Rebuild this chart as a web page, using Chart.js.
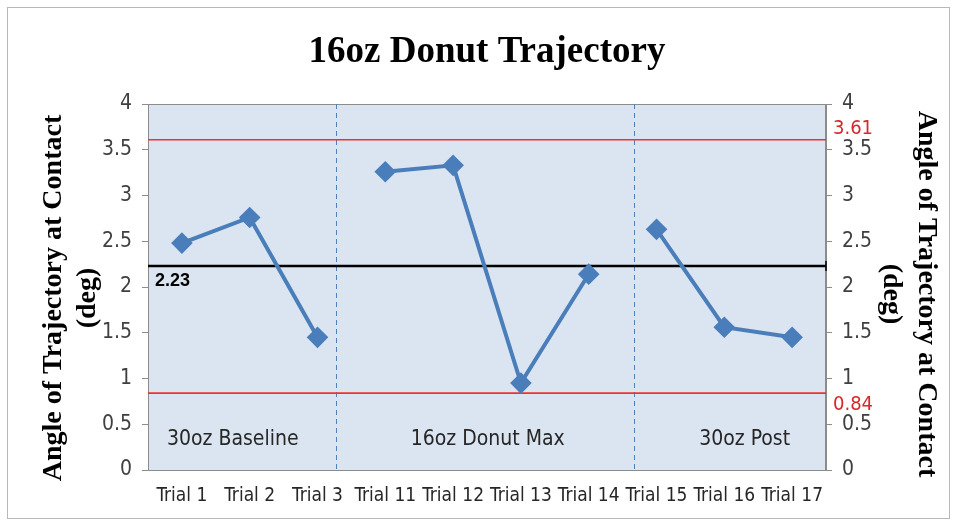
<!DOCTYPE html>
<html lang="en">
  <head>
    <meta charset="UTF-8" />
    <style>
      html, body { margin: 0; padding: 0; background: #fff; }
      #wrap { width: 956px; height: 525px; }
    </style>
  </head>
  <body>
    <div id="wrap"><canvas id="myChart" width="956" height="525"></canvas></div>
    <script src="https://cdn.jsdelivr.net/npm/chart.js@4.4.1/dist/chart.umd.min.js"></script>
    <script>
      // data
      var trials = ["Trial 1", "Trial 2", "Trial 3", "Trial 11", "Trial 12", "Trial 13", "Trial 14", "Trial 15", "Trial 16", "Trial 17"];
      var angles = [2.48, 2.76, 1.45, 3.26, 3.33, 0.95, 2.14, 2.63, 1.56, 1.45];
      var meanValue = 2.23;
      var upperLimit = 3.61;
      var lowerLimit = 0.84;
      var yTicks = [0, 0.5, 1, 1.5, 2, 2.5, 3, 3.5, 4];
      var phases = ["30oz Baseline", "16oz Donut Max", "30oz Post"];
      var phaseCenters = [0.75, 4.51, 8.3]; // in category index units
      var phaseDividers = [2.27, 6.67];

      var sansFamily = "'Liberation Sans Narrow', 'DejaVu Sans Condensed', sans-serif";
      var tickFont = { family: sansFamily, size: 21 };
      var serif = "'Liberation Serif', 'DejaVu Serif', serif";

      function afterFitWidth(w) {
        return function (scale) { scale.width = w; };
      }

      /* 背景・タイトル・基準線などを描く */
      var decor = {
        id: "decor",
        beforeDraw: function (chart) {
          var c = chart.ctx, a = chart.chartArea;
          c.save();
          c.fillStyle = "#fff";
          c.fillRect(0, 0, chart.width, chart.height);
          c.strokeStyle = "#b8b8b8";
          c.lineWidth = 1;
          c.strokeRect(7.5, 7.5, 942, 511);
          c.fillStyle = "#dbe5f1";
          c.fillRect(a.left, a.top, a.right - a.left, a.bottom - a.top);
          c.restore();
        },
        beforeDatasetsDraw: function (chart) {
          var c = chart.ctx, a = chart.chartArea;
          var x = chart.scales.x, y = chart.scales.y;
          var step = x.getPixelForValue(1) - x.getPixelForValue(0);
          c.save();
          // plot border
          c.strokeStyle = "#8c8c8c";
          c.lineWidth = 1;
          c.strokeRect(a.left + 0.5, a.top + 0.5, a.right - a.left - 1, a.bottom - a.top);

          // phase dividers
          c.strokeStyle = "#4f81bd";
          c.setLineDash([5, 4]);
          phaseDividers.forEach(function (d) {
            var px = Math.round(x.getPixelForValue(0) + d * step) + 0.5;
            c.beginPath();
            c.moveTo(px, a.top);
            c.lineTo(px, a.bottom);
            c.stroke();
          });
          c.setLineDash([]);

          // control limits
          c.strokeStyle = "#f0302a";
          c.lineWidth = 1.6;
          [upperLimit, lowerLimit].forEach(function (v) {
            var py = y.getPixelForValue(v);
            c.beginPath();
            c.moveTo(a.left, py);
            c.lineTo(a.right, py);
            c.stroke();
          });

          // mean line
          var my = y.getPixelForValue(meanValue);
          c.strokeStyle = "#000";
          c.lineWidth = 2.5;
          c.beginPath();
          c.moveTo(a.left, my);
          c.lineTo(a.right, my);
          c.stroke();
          c.lineWidth = 1.5;
          c.beginPath();
          c.moveTo(a.right, my - 5);
          c.lineTo(a.right, my + 5);
          c.stroke();

          // labels on lines
          c.font = "bold 18px 'Liberation Sans', sans-serif";
          c.fillStyle = "#000";
          c.textAlign = "left";
          c.textBaseline = "middle";
          c.fillText(meanValue.toFixed(2), a.left + 7, my + 15);
          c.font = "20px " + sansFamily;
          c.fillStyle = "#d9262b";
          c.fillText(upperLimit.toFixed(2), a.right + 7, y.getPixelForValue(upperLimit) - 11);
          c.fillText(lowerLimit.toFixed(2), a.right + 7, y.getPixelForValue(lowerLimit) + 12);

          // phase names
          c.fillStyle = "#262626";
          c.textAlign = "center";
          c.font = "21px " + sansFamily;
          phases.forEach(function (p, i) {
            c.fillText(p, x.getPixelForValue(0) + phaseCenters[i] * step, y.getPixelForValue(0.33));
          });
          c.restore();
        },
        afterDraw: function (chart) {
          var c = chart.ctx;
          var cy = 298;
          c.save();
          c.fillStyle = "#000";
          c.textAlign = "center";
          c.textBaseline = "middle";
          c.font = "bold 37px " + serif;
          c.fillText("16oz Donut Trajectory", 487, 52);

          c.font = "bold 28px " + serif;
          // left title
          c.save();
          c.translate(54, cy);
          c.rotate(-Math.PI / 2);
          c.fillText("Angle of Trajectory at Contact", 0, 0);
          c.fillText("(deg)", 0, 34);
          c.restore();
          // right title
          c.save();
          c.translate(926, cy - 4);
          c.rotate(Math.PI / 2);
          c.fillText("Angle of Trajectory at Contact", 0, 0);
          c.fillText("(deg)", 0, 35);
          c.restore();
          c.restore();
        },
      };

      var ctx = document.getElementById("myChart").getContext("2d");
      var chart = new Chart(ctx, {
        type: "line",
        data: {
          labels: trials,
          datasets: [
            {
              data: angles,
              borderColor: "#4a7ebb",
              backgroundColor: "#4a7ebb",
              borderWidth: 4,
              pointStyle: "rectRot",
              pointRadius: 8,
              pointHoverRadius: 8,
              segment: {
                // phases are not connected to each other
                borderColor: function (s) {
                  return s.p0DataIndex === 2 || s.p0DataIndex === 6 ? "rgba(0,0,0,0)" : "#4a7ebb";
                },
              },
            },
          ],
        },
        options: {
          responsive: false,
          animation: false,
          layout: { padding: { top: 104, left: 0, right: 0, bottom: 0 } },
          plugins: {
            legend: { display: false },
            title: { display: false },
            tooltip: { enabled: false },
          },
          scales: {
            x: {
              offset: true,
              grid: { display: false, drawTicks: false },
              border: { display: false },
              ticks: { font: { family: sansFamily, size: 19 }, color: "#262626", padding: 15, maxRotation: 0, autoSkip: false },
              afterFit: function (s) { s.height = 55; },
            },
            y: {
              position: "left",
              min: 0,
              max: 4,
              afterBuildTicks: function (s) { s.ticks = yTicks.map(function (v) { return { value: v }; }); },
              grid: { drawOnChartArea: false, tickLength: 6, color: "#8c8c8c" },
              border: { color: "#8c8c8c" },
              ticks: { font: tickFont, color: "#404040", padding: 10, callback: function (v) { return String(v); } },
              afterFit: afterFitWidth(148),
            },
            y2: {
              position: "right",
              min: 0,
              max: 4,
              afterBuildTicks: function (s) { s.ticks = yTicks.map(function (v) { return { value: v }; }); },
              grid: { drawOnChartArea: false, tickLength: 6, color: "#8c8c8c" },
              border: { color: "#8c8c8c" },
              ticks: { font: tickFont, color: "#404040", padding: 10, callback: function (v) { return String(v); } },
              afterFit: afterFitWidth(130),
            },
          },
        },
        plugins: [decor],
      });
    </script>
  </body>
</html>
